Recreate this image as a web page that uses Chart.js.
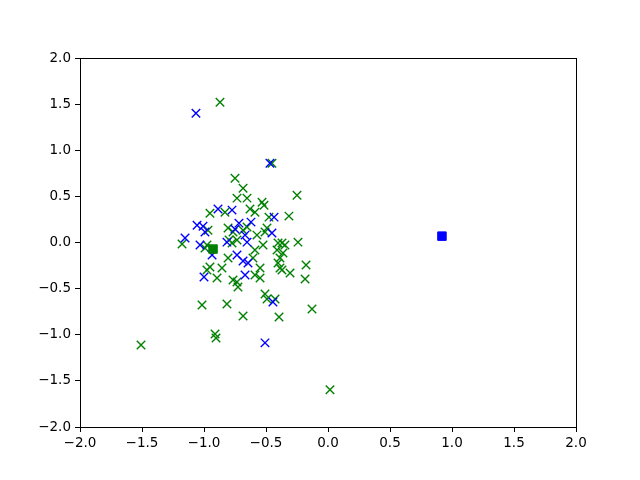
<!DOCTYPE html>
<html lang="en">
<head>
  <meta charset="UTF-8" />
  <title>Scatter</title>
  <script src="https://cdn.jsdelivr.net/npm/chart.js"></script>
  <style>
    html, body { margin: 0; padding: 0; background: #fff; }
    #wrap { width: 640px; height: 480px; }
  </style>
</head>
<body>
  <div id="wrap"><canvas id="chart" width="640" height="480"></canvas></div>

  <script>
    // blue points
    const blueX = [-1.065, -0.468, -0.887, -0.774, -0.435, -1.056, -1.008, -0.992, -0.718, -0.621,
                   -0.750, -1.153, -1.032, -0.815, -0.935, -0.734, -0.669, -0.653, -0.452, -0.685,
                   -0.645, -0.669, -1.000, -0.444, -0.508];
    const blueY = [1.400, 0.860, 0.362, 0.351, 0.275, 0.188, 0.177, 0.113, 0.210, 0.221,
                   0.145, 0.048, -0.028, 0.004, -0.136, -0.136, 0.080, 0.004, 0.102, -0.201,
                   -0.223, -0.353, -0.374, -0.645, -1.088];

    // green points
    const greenX = [-0.871, -0.452, -0.750, -0.685, -0.250, -0.734, -0.653, -0.532, -0.516, -0.952,
                    -0.831, -0.629, -0.589, -0.476, -0.315, -0.653, -0.492, -0.968, -0.806, -0.766,
                    -0.685, -0.573, -0.508, -1.177, -0.992, -0.976, -0.798, -0.774, -0.734, -0.589,
                    -0.524, -0.403, -0.371, -0.347, -0.242, -0.411, -0.363, -0.806, -0.605, -0.387,
                    -0.403, -0.177, -0.387, -0.371, -0.306, -0.548, -0.952, -0.976, -0.855, -0.895,
                    -0.766, -0.734, -0.726, -0.589, -0.548, -0.185, -0.508, -0.492, -0.427, -0.815,
                    -1.016, -0.685, -0.395, -0.129, -0.911, -0.903, -1.508, 0.016];
    const greenY = [1.520, 0.860, 0.697, 0.589, 0.513, 0.481, 0.481, 0.437, 0.405, 0.318,
                    0.329, 0.362, 0.329, 0.275, 0.286, 0.167, 0.156, 0.134, 0.156, 0.113,
                    0.134, 0.080, 0.113, -0.017, -0.061, -0.028, 0.026, -0.006, 0.026, -0.082,
                    -0.028, -0.006, -0.006, -0.028, 0.004, -0.082, -0.115, -0.169, -0.169, -0.169,
                    -0.223, -0.245, -0.277, -0.299, -0.331, -0.277, -0.266, -0.299, -0.277, -0.385,
                    -0.407, -0.429, -0.483, -0.353, -0.385, -0.396, -0.558, -0.613, -0.613, -0.667,
                    -0.678, -0.797, -0.808, -0.721, -0.991, -1.035, -1.110, -1.597];

    // centres (square markers)
    const centreBlue = [0.919, 0.069];
    const centreGreen = [-0.927, -0.071];

    const axisTicks = [-2.0, -1.5, -1.0, -0.5, 0.0, 0.5, 1.0, 1.5, 2.0];

    const toPoints = (xs, ys) => xs.map((x, i) => ({ x: x, y: ys[i] }));
    const fmt = v => v.toFixed(1).replace('-', '\u2212');

    // draw the top/right spines too
    const frame = {
      id: 'frame',
      afterDraw(chart) {
        const a = chart.chartArea, ctx = chart.ctx;
        ctx.save();
        ctx.strokeStyle = '#000';
        ctx.lineWidth = 1;
        ctx.strokeRect(Math.round(a.left) + 0.5, Math.round(a.top) + 0.5,
                       Math.round(a.right - a.left), Math.round(a.bottom - a.top));
        ctx.restore();
      }
    };

    const tickFont = { family: 'DejaVu Sans', size: 13.5 };

    new Chart(document.getElementById('chart'), {
      type: 'scatter',
      data: {
        datasets: [
          { label: 'centre blue', data: [{ x: centreBlue[0], y: centreBlue[1] }], order: 0,
            pointStyle: 'rect', pointRadius: 6, backgroundColor: '#0000ff', borderColor: '#0000ff', borderWidth: 1 },
          { label: 'centre green', data: [{ x: centreGreen[0], y: centreGreen[1] }], order: 0,
            pointStyle: 'rect', pointRadius: 6, backgroundColor: '#008000', borderColor: '#008000', borderWidth: 1 },
          { label: 'blue', data: toPoints(blueX, blueY), order: 1,
            pointStyle: 'crossRot', pointRadius: 6, borderColor: '#0000ff', borderWidth: 1.4 },
          { label: 'green', data: toPoints(greenX, greenY), order: 2,
            pointStyle: 'crossRot', pointRadius: 6, borderColor: '#008000', borderWidth: 1.4 }
        ]
      },
      options: {
        responsive: false,
        animation: false,
        layout: { padding: { top: 58, right: 64, left: 0, bottom: 0 } },
        plugins: { legend: { display: false }, tooltip: { enabled: false } },
        scales: {
          x: {
            type: 'linear', min: -2, max: 2,
            afterBuildTicks: s => { s.ticks = axisTicks.map(v => ({ value: v })); },
            afterFit: s => { s.height = 53; },
            grid: { display: true, drawOnChartArea: false, drawTicks: true, tickLength: 5, color: '#000' },
            border: { display: true, color: '#000', width: 1 },
            ticks: { color: '#000', font: tickFont, padding: 3, maxRotation: 0, callback: v => fmt(v) }
          },
          y: {
            type: 'linear', min: -2, max: 2,
            afterBuildTicks: s => { s.ticks = axisTicks.map(v => ({ value: v })); },
            afterFit: s => { s.width = 80; },
            grid: { display: true, drawOnChartArea: false, drawTicks: true, tickLength: 5, color: '#000' },
            border: { display: true, color: '#000', width: 1 },
            ticks: { color: '#000', font: tickFont, padding: 4, callback: v => fmt(v) }
          }
        }
      },
      plugins: [frame]
    });
  </script>
</body>
</html>
